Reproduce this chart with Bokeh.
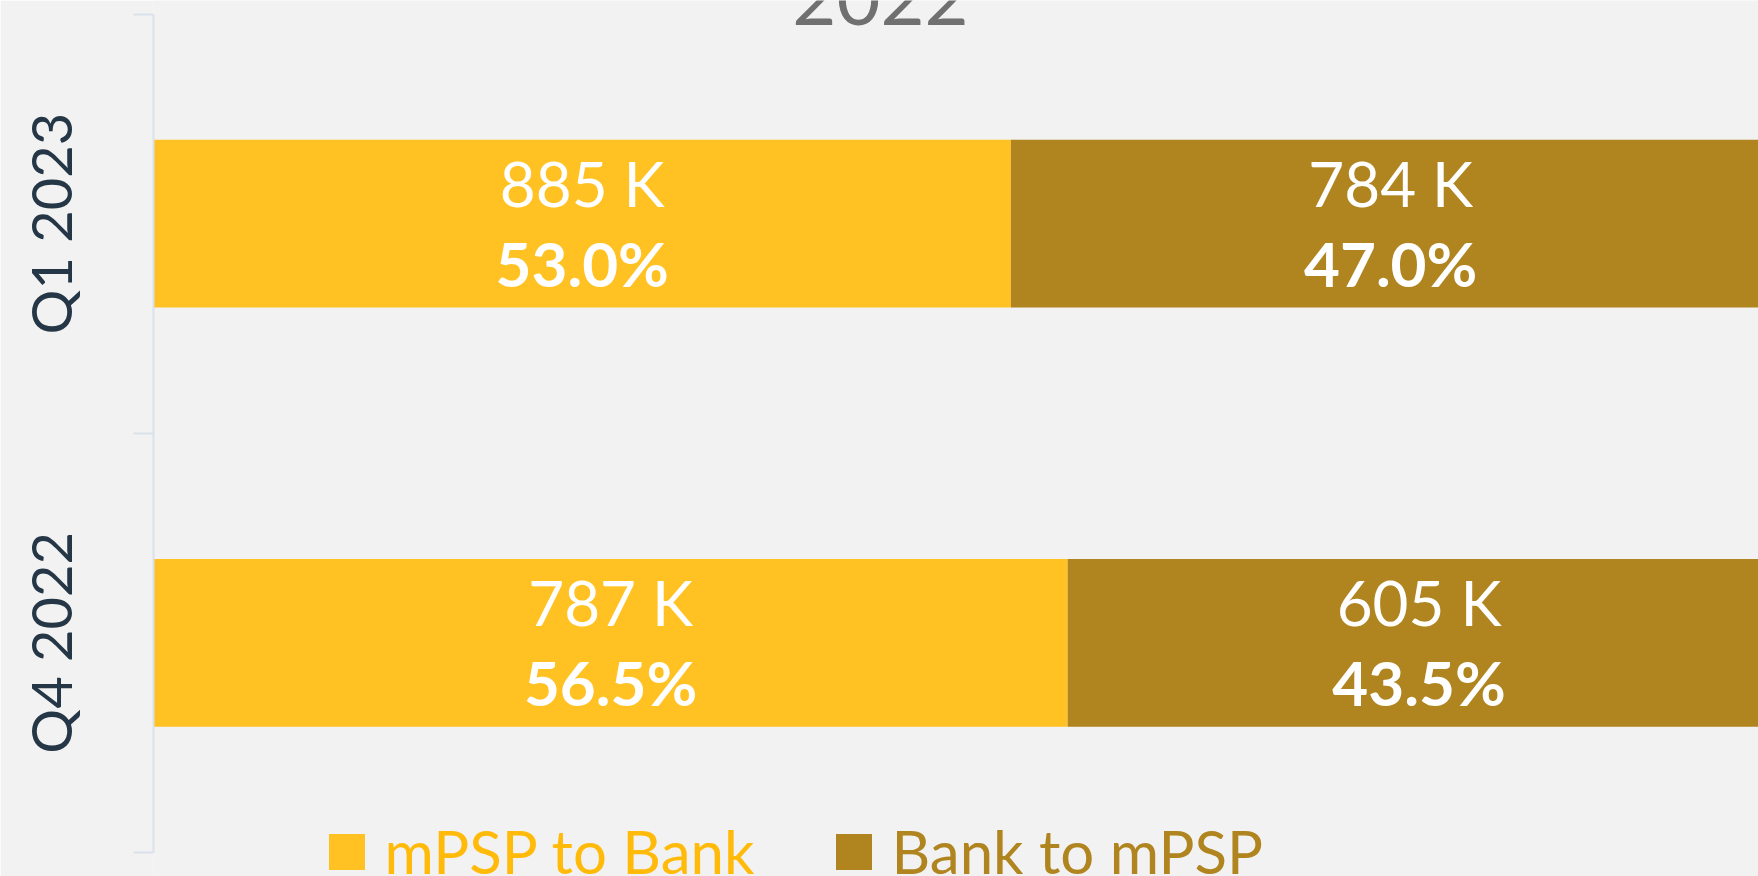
from bokeh.plotting import figure
from bokeh.models import (ColumnDataSource, Range1d, FixedTicker, Label, Legend, LegendItem)
from bokeh.core.properties import value
from bokeh.embed import file_html
from bokeh.resources import INLINE

# ---- data ----
categories = ["Q4 2022", "Q1 2023"]
mpsp_to_bank = [787, 885]   # thousands
bank_to_mpsp = [605, 784]   # thousands
series_names = ["mPSP to Bank", "Bank to mPSP"]
series_colors = ["#FFC222", "#B0851F"]
legend_text_colors = ["#FFBA0A", "#B0851F"]
title_text = "2022"

FONT = "Lato"
BG = "#F2F2F2"

totals = [a + b for a, b in zip(mpsp_to_bank, bank_to_mpsp)]
pct_a = [a / t * 100 for a, t in zip(mpsp_to_bank, totals)]
pct_b = [b / t * 100 for b, t in zip(bank_to_mpsp, totals)]
ypos = [i + 0.5 for i in range(len(categories))]
n = len(categories)

src = ColumnDataSource(dict(
    y=ypos,
    a_left=[0] * n,
    a_right=pct_a,
    b_left=pct_a,
    b_right=[100] * n,
    a_mid=[p / 2 for p in pct_a],
    b_mid=[p + q / 2 for p, q in zip(pct_a, pct_b)],
    a_val=[f"{v} K" for v in mpsp_to_bank],
    b_val=[f"{v} K" for v in bank_to_mpsp],
    a_pct=[f"{v:.1f}%" for v in pct_a],
    b_pct=[f"{v:.1f}%" for v in pct_b],
))

p = figure(width=1758, height=876, output_backend="svg", toolbar_location=None,
           x_range=Range1d(0, 99.26), y_range=Range1d(-0.0572, n + 0.0322),
           min_border_left=153, min_border_right=0, min_border_top=0, min_border_bottom=0)
p.background_fill_color = BG
p.border_fill_color = BG
p.outline_line_color = None
p.grid.visible = False
p.xaxis.visible = False

ra = p.hbar(y="y", left="a_left", right="a_right", height=0.4, source=src,
            fill_color=series_colors[0], line_color=None)
rb = p.hbar(y="y", left="b_left", right="b_right", height=0.4, source=src,
            fill_color=series_colors[1], line_color=None)

for xcol, vcol, pcol in [("a_mid", "a_val", "a_pct"), ("b_mid", "b_val", "b_pct")]:
    p.text(x=xcol, y="y", text=vcol, source=src, y_offset=-41,
           text_align="center", text_baseline="middle", text_color="white",
           text_font=value(FONT), text_font_size="62px")
    p.text(x=xcol, y="y", text=pcol, source=src, y_offset=39,
           text_align="center", text_baseline="middle", text_color="white",
           text_font=value(FONT), text_font_size="62px", text_font_style="bold")

ax = p.yaxis[0]
ax.bounds = (0, n)
ax.ticker = FixedTicker(ticks=ypos, minor_ticks=list(range(n + 1)))
ax.major_label_overrides = {y: c for y, c in zip(ypos, categories)}
ax.major_tick_out = 0
ax.major_tick_in = 0
ax.minor_tick_out = 20
ax.minor_tick_in = 0
ax.minor_tick_line_color = "#D9E1EA"
ax.axis_line_color = "#D9E1EA"
ax.axis_line_width = 2
ax.minor_tick_line_width = 2
ax.major_label_orientation = "vertical"
ax.major_label_standoff = 49
ax.major_label_text_font = FONT
ax.major_label_text_font_size = "56px"
ax.major_label_text_color = "#253746"

p.add_layout(Label(x=727, y=879, x_units="screen", y_units="screen", text=title_text,
                   text_align="center", text_baseline="alphabetic",
                   text_font=FONT, text_font_size="76px", text_color="#707070"))

for r, name, color, loc in [(ra, series_names[0], legend_text_colors[0], (170.5, -11)),
                            (rb, series_names[1], legend_text_colors[1], (677.5, -11))]:
    lg = Legend(items=[LegendItem(label=name, renderers=[r])], location=loc,
                orientation="horizontal", glyph_width=45, glyph_height=45,
                label_standoff=16, padding=0, margin=0, spacing=0,
                border_line_color=None, background_fill_alpha=0,
                label_text_font=FONT, label_text_font_size="60px",
                label_text_color=color)
    p.add_layout(lg, "center")

html = file_html(p, INLINE)
html = html.replace("<body>", '<body style="background-color:#F2F2F2;">', 1)
open("out.html", "w").write(html)
